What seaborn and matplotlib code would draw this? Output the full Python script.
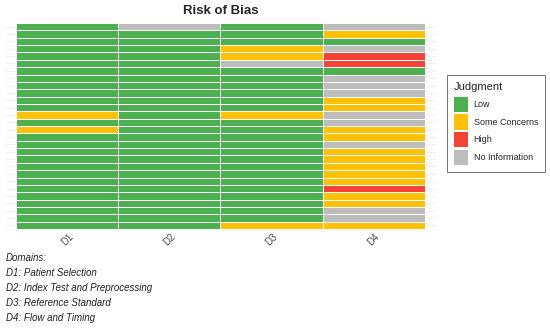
import numpy as np
import pandas as pd
import matplotlib
matplotlib.use("Agg")
import matplotlib.pyplot as plt
from matplotlib.colors import ListedColormap
from matplotlib.patches import Patch
import seaborn as sns

domains = ["D1", "D2", "D3", "D4"]
judgments = ["Low", "Some Concerns", "High", "No Information"]
colors = ["#4CAF50", "#FFC107", "#F44336", "#BDBDBD"]

L, S, H, N = "Low", "Some Concerns", "High", "No Information"
d1 = [L]*12 + [S, L, S] + [L]*13
d2 = [N] + [L]*27
d3 = [L, L, L, S, S, N] + [L]*6 + [S] + [L]*14 + [S]
d4 = [N, S, L, N, H, H, L, N, N, N, S, S, N, N, S, S, N,
      S, S, S, S, S, H, S, S, N, N, S]

caption_lines = ["Domains:", "D1: Patient Selection", "D2: Index Test and Preprocessing",
                 "D3: Reference Standard", "D4: Flow and Timing"]

sns.set_style("white")
plt.rcParams['font.family'] = ['Liberation Sans', 'DejaVu Sans']

df = pd.DataFrame({"D1": d1, "D2": d2, "D3": d3, "D4": d4})
codes = df.apply(lambda c: c.map({j: i for i, j in enumerate(judgments)}))

fig = plt.figure(figsize=(5.5, 3.31), dpi=100)
W, Hh = 550, 331
x0, x1 = 16, 425
y0, y1 = 23, 229
ax = fig.add_axes([5/W, 1 - y1/Hh, (436-5)/W, (y1-y0)/Hh])

sns.heatmap(codes, ax=ax, cmap=ListedColormap(colors), vmin=-0.5, vmax=3.5,
            cbar=False, linewidths=0.4, linecolor="white")

unit = (x1 - x0) / 4
ax.set_xlim(-(x0-5)/unit, 4 + (436-x1)/unit)
nrows = len(d1)
ax.hlines(np.arange(nrows) + 0.5, ax.get_xlim()[0], ax.get_xlim()[1],
          color="#ececec", lw=0.5, zorder=0)
for s in ax.spines.values():
    s.set_visible(False)
ax.set_yticks([])
ax.set_ylabel("")
ax.set_xticks(np.arange(4) + 0.5)
ax.set_xticklabels(domains, rotation=45, fontsize=7, color="#4d4d4d")
ax.tick_params(axis="x", length=0, pad=2)

fig.text((x0+x1)/2/W, 1 - 11/Hh, "Risk of Bias", ha="center", va="center",
         fontsize=9.5, fontweight="bold")

for i, line in enumerate(caption_lines):
    fig.text(6/W, 1 - (258 + i*15.1)/Hh, line, ha="left", va="center",
             fontsize=7, style="italic", color="#222222")

handles = [Patch(facecolor=c, edgecolor="none") for c in colors]
leg = fig.legend(handles, judgments, title="Judgment", loc="upper left",
                 bbox_to_anchor=(447/W, 1 - 75/Hh), frameon=True, fancybox=False,
                 edgecolor="#333333", fontsize=6.5, title_fontsize=8,
                 handlelength=1.6, handleheight=2.2, handletextpad=0.6,
                 labelspacing=0.28, borderpad=0.75, borderaxespad=0.0,
                 alignment="left")
leg._legend_box.sep = 3.6
leg.get_frame().set_linewidth(0.6)

fig.savefig("out.png", dpi=100)
